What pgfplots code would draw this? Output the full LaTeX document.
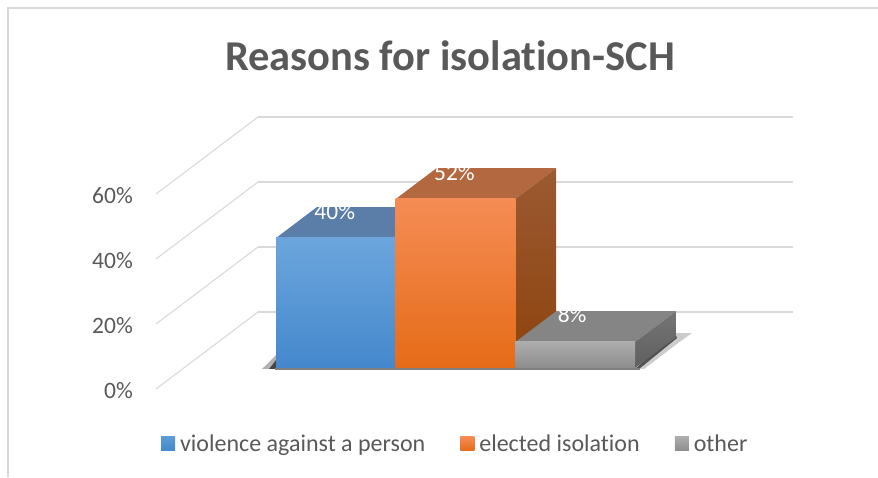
\documentclass[border=0pt]{standalone}
\usepackage{fontspec}
\setmainfont[Ligatures=NoCommon,Contextuals=NoAlternate]{Carlito}
\usepackage{pgfplots}
\pgfplotsset{compat=1.18}
\definecolor{txt}{HTML}{595959}
\definecolor{gridc}{HTML}{D9D9D9}
\definecolor{bA}{HTML}{6CA5DD}\definecolor{bB}{HTML}{5B9BD5}\definecolor{bC}{HTML}{4488CC}\definecolor{bT}{HTML}{5A7EA8}
\definecolor{oA}{HTML}{F58C55}\definecolor{oB}{HTML}{F97B24}\definecolor{oC}{HTML}{E56B17}\definecolor{oT}{HTML}{B4683F}\definecolor{oS}{HTML}{9C5A32}\definecolor{oR}{HTML}{8C430D}
\definecolor{gA}{HTML}{ADADAD}\definecolor{gB}{HTML}{9E9E9E}\definecolor{gC}{HTML}{8C8C8C}\definecolor{gT}{HTML}{858585}\definecolor{gS}{HTML}{757575}\definecolor{gR}{HTML}{5F5F5F}
% bar: x position, value, front top/mid/bottom, top face, side top, side bottom
\newcommand{\threedbar}[8]{%
 \pgfmathsetmacro{\xa}{#1-0.5}\pgfmathsetmacro{\xb}{#1+0.5}%
 \edef\temp{\noexpand\addplot3[forget plot,draw=none,fill=#6] coordinates {(\xa,0.273,#2) (\xb,0.273,#2) (\xb,0.673,#2) (\xa,0.673,#2)};
 \noexpand\addplot3[forget plot,draw=none,shade,shading angle=0,top color=#7,bottom color=#8] coordinates {(\xb,0.273,0) (\xb,0.673,0) (\xb,0.673,#2) (\xb,0.273,#2)};
 \noexpand\addplot3[forget plot,draw=none,shade,top color=#3,middle color=#4,bottom color=#5] coordinates {(\xa,0.273,0) (\xb,0.273,0) (\xb,0.273,#2) (\xa,0.273,#2)};}%
 \temp}
\begin{document}
\begin{tikzpicture}
\begin{axis}[
  x={(119.7pt,0pt)}, y={(102pt,77pt)}, z={(0pt,3.25pt)},
  xmin=-1.27, xmax=3.2, ymin=0, ymax=1, zmin=0, zmax=60,
  clip=false,
  axis x line*=bottom, axis y line*=left, axis z line*=left,
  x axis line style={draw=none}, y axis line style={draw=none}, z axis line style={draw=none},
  xtick=\empty, ytick=\empty,
  ztick={0,20,40,60}, zticklabels={0\%,20\%,40\%,60\%},
  major tick length=0pt,
  tick style={draw=none},
  zticklabel style={anchor=east,font=\fontsize{23.5}{28}\selectfont,text=txt,inner sep=0pt,xshift=-23pt,yshift=-2pt},
  zmajorgrids,
  grid style={gridc,line width=1.1pt},
  title={\textbf{Reasons for isolation-SCH}},
  title style={at={(axis cs:1.186,0,100.7)},anchor=center,font=\fontsize{42.5}{50}\selectfont,text=txt,inner sep=0pt},
  legend columns=3,
  legend style={at={(axis cs:1.23,0,-16.9)},anchor=center,draw=none,fill=none,
    font=\fontsize{24}{28}\selectfont,text=txt,inner sep=0pt,
    /tikz/every even column/.append style={column sep=33pt}},
  legend cell align=left,
]
% floor shadow
\addplot3[forget plot,draw=none,fill=black,opacity=.3] coordinates {(-.606,.26,0) (-.489,.26,0) (-.643,.442,0)};
\addplot3[forget plot,draw=none,fill=black,opacity=.6] coordinates {(-.547,.26,0) (-.489,.26,0) (-.588,.377,0)};
\addplot3[forget plot,draw=none,fill=black,opacity=.2] coordinates {(2.51,.26,0) (2.586,.26,0) (2.582,.597,0) (2.588,.727,0) (2.446,.727,0)};
\addplot3[forget plot,draw=none,fill=black,opacity=.6] coordinates {(2.51,.26,0) (2.544,.26,0) (2.519,.662,0) (2.446,.727,0)};
\addplot3[forget plot,gray,line width=1.2pt,no marks] coordinates {(-.5,.26,0) (2.55,.26,0)};
% bars
\threedbar{0}{40}{bA}{bB}{bC}{bT}{bT}{bT}
\threedbar{1}{52}{oA}{oB}{oC}{oT}{oS}{oR}
\threedbar{2}{8}{gA}{gB}{gC}{gT}{gS}{gR}
% legend
\addlegendimage{area legend,legend image code/.code={\shade[draw=none,top color=bB,bottom color=bC] (0pt,-7pt) rectangle (14pt,7pt);\path[draw=none] (0pt,0pt) -- (17pt,0pt);}}
\addlegendentry{violence against a person}
\addlegendimage{area legend,legend image code/.code={\shade[draw=none,top color=oA,bottom color=oC] (0pt,-7pt) rectangle (14pt,7pt);\path[draw=none] (0pt,0pt) -- (17pt,0pt);}}
\addlegendentry{elected isolation}
\addlegendimage{area legend,legend image code/.code={\shade[draw=none,top color=gA,bottom color=gC] (0pt,-7pt) rectangle (14pt,7pt);\path[draw=none] (0pt,0pt) -- (17pt,0pt);}}
\addlegendentry{other}
% value labels
\node[text=white,font=\fontsize{23.5}{28}\selectfont,xshift=-21pt,yshift=11pt] at (axis cs:0,.468,40) {40\%};
\node[text=white,font=\fontsize{23.5}{28}\selectfont,xshift=-21pt,yshift=11pt] at (axis cs:1,.468,52) {52\%};
\node[text=white,font=\fontsize{23.5}{28}\selectfont,xshift=-23pt,yshift=12pt] at (axis cs:2,.468,8) {8\%};
\coordinate (O) at (axis cs:-1.27,0,0);
\end{axis}
\draw[gridc,line width=1.2pt] (O) ++(-148pt,-88pt) -- ++(0,469pt) -- ++(870pt,0);
\pgfresetboundingbox
\path[use as bounding box] (O) ++(-156pt,-88pt) rectangle ++(878pt,477pt);
\end{tikzpicture}
\end{document}
